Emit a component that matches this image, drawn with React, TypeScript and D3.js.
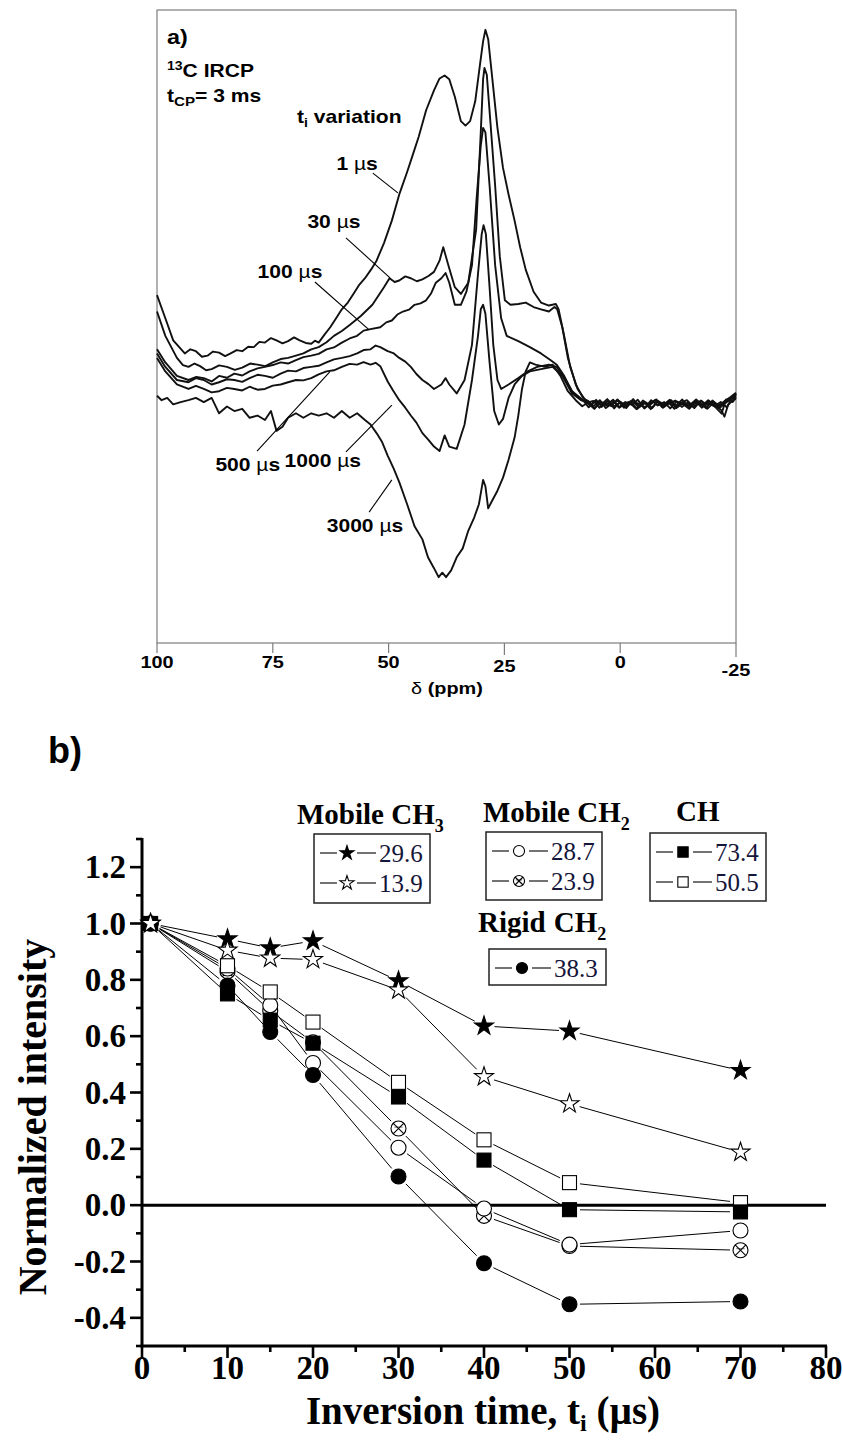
import * as d3 from 'd3';

type Pt = [number, number];

// ---------- panel a: 13C IRCP spectra, [ppm, intensity] (baseline 0, 1 µs main peak = 100)
const SPEC_1US: Pt[] = [
  [100, 29.1], [98.2, 22.9], [96.5, 17.0], [94.0, 13.5], [92.8, 14.6], [91.6, 14.1], [90.3, 12.6], [89.1, 12.9],
  [87.9, 14.0], [86.6, 13.7], [85.3, 12.8], [84.1, 13.5], [82.8, 14.4], [81.6, 14.1], [80.3, 15.3], [79.1, 15.2],
  [77.9, 16.6], [76.7, 16.4], [75.4, 17.6], [74.2, 17.0], [72.9, 16.2], [71.7, 16.8], [70.4, 17.8], [69.2, 17.0],
  [67.9, 16.3], [66.7, 16.1], [65.9, 16.9], [65.1, 16.4], [63.8, 18.6], [62.6, 20.5], [61.3, 23.0], [60.1, 25.3],
  [58.8, 27.1], [57.6, 29.4], [56.3, 31.9], [55.1, 33.6], [53.8, 35.9], [52.6, 38.3], [51.0, 43.0], [49.3, 49.0],
  [47.7, 56.0], [46.0, 62.0], [44.8, 66.5], [43.5, 71.4], [41.9, 78.5], [40.2, 83.8], [39.0, 87.0], [37.9, 87.8],
  [36.9, 86.8], [35.7, 82.1], [34.4, 75.6], [33.4, 74.4], [32.4, 75.6], [31.3, 80.9], [30.3, 90.4], [29.6, 96.9],
  [29.1, 100], [28.5, 97.5], [27.7, 88.0], [26.5, 73.8], [25.3, 63.1], [24.1, 56.0], [22.8, 49.0], [21.6, 41.9],
  [20.4, 35.9], [18.7, 30.0], [17.1, 27.1], [15.4, 26.3], [13.9, 26.7], [13.3, 25.3], [12.1, 18.2], [10.8, 9.9],
  [9.2, 4.0], [7.5, 1.0], [6.5, -0.4], [5.2, 1.1], [4, -0.8], [2.6, 0.9], [1.3, -1.2], [0, 0.6], [-1.4, -0.5],
  [-2.8, 1.3], [-4.1, -0.9], [-5.5, 0.4], [-6.9, -1.1], [-8.2, 0.8], [-9.6, -0.3], [-11, 1.0], [-12.3, -0.9],
  [-13.7, 0.5], [-15.1, -0.6], [-16.4, 1.2], [-17.8, -0.4], [-19.2, 0.7], [-20.5, -0.8], [-21.9, -2.6],
  [-22.6, 0.3], [-23.6, 1.4], [-25, 2.3],
];

const SPEC_30US: Pt[] = [
  [100, 24.7], [98.2, 18.2], [95.7, 12.3], [94.4, 10.4], [93.2, 9.9], [91.9, 10.8], [90.7, 10.1], [89.4, 9.0],
  [88.2, 9.3], [86.6, 10.3], [84.9, 9.9], [83.2, 9.1], [81.6, 9.7], [79.9, 10.8], [78.3, 10.5], [76.6, 10.1],
  [75.0, 11.1], [73.3, 12.0], [71.7, 12.3], [70.0, 12.9], [68.4, 13.5], [66.7, 14.6], [65.1, 15.2], [63.4, 16.5],
  [61.8, 18.2], [60.1, 19.5], [58.4, 21.1], [56.0, 23.5], [53.5, 26.5], [51.0, 31.2], [49.8, 33.6], [48.7, 32.6],
  [47.7, 33.0], [46.4, 34.1], [45.2, 33.6], [43.9, 32.8], [42.7, 33.3], [41.4, 34.2], [40.2, 35.3], [39.0, 38.3],
  [38.2, 41.9], [37.1, 37.1], [35.7, 31.2], [34.4, 29.4], [32.8, 32.4], [31.1, 46.6], [30.1, 72.6], [29.6, 86.8],
  [29.3, 89.8], [28.8, 88.0], [28.0, 75.0], [27.0, 58.4], [26.0, 39.5], [24.9, 27.7], [23.7, 26.5], [22.0, 26.7],
  [20.4, 27.1], [18.7, 25.9], [17.1, 25.3], [15.4, 24.7], [14.2, 25.9], [13.6, 25.3], [12.5, 20.5], [11.3, 12.3],
  [9.6, 5.2], [8.0, 1.6], [6.7, 0.5], [5.8, 0.8], [4.5, -1.0], [3.2, 0.5], [1.9, -0.6], [0.6, 1.2], [-0.8, -1.0],
  [-2.1, 0.3], [-3.5, -1.4], [-4.9, 0.9], [-6.2, -0.2], [-7.6, 1.1], [-9, -0.8], [-10.3, 0.6], [-11.7, -1.3],
  [-13, 0.2], [-14.4, 1.0], [-15.8, -0.7], [-17.1, 0.4], [-18.5, -1.1], [-19.9, 0.9], [-21.2, -0.5], [-22.6, 0.8],
  [-23.9, 1.9], [-25, 3.0],
];

const SPEC_100US: Pt[] = [
  [100, 14.6], [98.2, 11.1], [95.7, 7.5], [93.2, 6.4], [91.5, 7.2], [89.9, 6.9], [88.2, 6.0], [86.6, 7.5],
  [84.9, 7.0], [83.3, 8.1], [81.6, 7.6], [80.0, 8.7], [78.3, 9.5], [76.7, 9.9], [75.0, 10.4], [73.3, 11.1],
  [71.7, 10.8], [70.0, 11.7], [68.4, 12.5], [66.7, 12.9], [65.1, 13.4], [63.4, 14.6], [61.8, 15.1], [60.1, 16.4],
  [58.4, 17.5], [56.8, 18.2], [55.4, 19.6], [53.9, 20.0], [51.8, 20.5], [50.5, 21.8], [49.3, 22.3], [48.1, 23.9],
  [46.9, 24.7], [45.6, 25.2], [44.4, 26.5], [43.1, 26.9], [41.9, 27.7], [40.8, 29.6], [39.8, 32.4], [38.6, 33.6],
  [37.7, 35.0], [36.9, 32.4], [35.7, 26.5], [34.4, 26.5], [33.2, 30.0], [32.0, 37.1], [31.0, 54.9], [30.1, 69.1],
  [29.6, 73.8], [29.1, 72.6], [28.2, 58.4], [27.0, 37.1], [25.7, 22.9], [24.5, 18.2], [22.0, 16.8], [19.5, 15.2],
  [17.1, 13.5], [15.0, 11.7], [13.7, 10.5], [12.1, 7.5], [10.4, 3.4], [8.4, 1.0], [7, 0.3], [5.6, -1.3],
  [4.3, 0.6], [3, -0.3], [1.6, 1.0], [0.3, -0.9], [-1.1, 0.5], [-2.4, -0.2], [-3.8, 1.1], [-5.2, -1.2],
  [-6.5, 0.2], [-7.9, 0.9], [-9.3, -0.9], [-10.6, 0.3], [-12, -0.5], [-13.4, 1.2], [-14.7, -1.0], [-16.1, 0.1],
  [-17.5, 0.8], [-18.8, -1.3], [-20.2, 0.4], [-21.6, -0.6], [-22.9, 1.2], [-24.3, 0.5], [-25, 1.8],
];

const SPEC_500US: Pt[] = [
  [100, 13.5], [98.2, 9.9], [95.7, 6.4], [93.2, 5.8], [91.6, 6.9], [89.9, 6.4], [88.2, 5.2], [86.6, 5.8],
  [84.9, 6.6], [83.3, 6.4], [81.6, 5.9], [80.0, 6.9], [78.3, 7.8], [76.7, 7.5], [75.0, 7.0], [73.3, 8.1],
  [71.7, 8.9], [70.0, 8.7], [68.4, 9.6], [66.7, 9.9], [65.1, 10.2], [63.4, 11.1], [61.8, 11.9], [60.1, 12.3],
  [58.4, 12.8], [56.8, 13.5], [55.4, 14.4], [53.9, 14.6], [52.8, 15.6], [51.8, 15.2], [50.2, 14.1], [49.0, 13.6],
  [47.7, 12.3], [46.4, 11.3], [45.2, 9.9], [44.0, 8.0], [42.7, 6.4], [41.4, 5.3], [40.2, 4.0], [38.6, 5.2],
  [37.7, 6.9], [36.9, 5.2], [35.3, 2.8], [33.6, 6.4], [32.0, 15.8], [30.7, 34.8], [29.9, 45.4], [29.5, 47.8],
  [29.0, 45.4], [28.2, 31.2], [27.4, 15.8], [26.5, 6.4], [25.7, 4.0], [24.1, 5.2], [22.0, 6.9], [20.0, 8.7],
  [17.9, 9.9], [15.4, 10.5], [13.7, 9.9], [12.1, 6.9], [10.4, 3.4], [8.0, 1.0], [6.8, -0.9], [5.4, 0.7],
  [4.1, -0.2], [2.8, 1.3], [1.4, -0.7], [0.1, 0.3], [-1.3, -1.1], [-2.6, 0.8], [-4, 0.0], [-5.4, -0.9],
  [-6.7, 1.0], [-8.1, -0.4], [-9.5, 0.5], [-10.8, -1.2], [-12.2, 0.7], [-13.6, -0.1], [-14.9, -1.3], [-16.3, 0.6],
  [-17.7, -0.5], [-19, 1.0], [-20.4, -0.3], [-21.8, -1.6], [-22.5, -3.4], [-23.3, -0.2], [-24.4, 1.1], [-25, 2.6],
];

const SPEC_1000US: Pt[] = [
  [100, 12.3], [98.2, 8.7], [95.7, 5.2], [93.2, 4.0], [91.6, 4.8], [89.9, 4.0], [88.2, 3.1], [86.6, 3.4],
  [84.9, 4.3], [83.3, 4.0], [81.6, 3.6], [80.0, 4.6], [78.3, 3.8], [76.7, 4.0], [75.0, 4.9], [73.3, 5.2],
  [71.7, 5.8], [70.0, 6.4], [68.4, 6.3], [66.7, 6.9], [65.1, 7.9], [63.4, 8.7], [61.8, 9.0], [60.1, 9.9],
  [58.4, 10.7], [56.8, 10.5], [55.4, 11.2], [53.9, 10.5], [52.8, 11.0], [51.8, 10.1], [50.2, 6.0], [49.0, 3.5],
  [47.7, 1.0], [46.4, -1.0], [45.2, -3.1], [44.0, -5.0], [42.7, -7.8], [41.4, -9.6], [40.2, -11.4], [39.0, -12.6],
  [37.9, -8.4], [36.9, -11.4], [35.3, -12.0], [33.6, -5.5], [32.0, 6.4], [30.7, 18.2], [30.1, 25.3], [29.6, 26.5],
  [29.1, 24.1], [28.2, 11.1], [27.2, -1.9], [26.2, -5.5], [25.3, -4.0], [24.1, 1.6], [22.8, 5.2], [21.2, 7.5],
  [19.5, 8.7], [17.1, 9.3], [14.6, 9.9], [12.5, 7.5], [10.4, 2.8], [8.4, 1.0], [7, 0.9], [5.7, -0.6], [4.4, 1.0],
  [3.1, -1.1], [1.7, 0.2], [0.4, 0.9], [-1, -0.6], [-2.3, 0.4], [-3.7, -1.3], [-5.1, 0.5], [-6.4, -0.3],
  [-7.8, 1.2], [-9.2, -1.0], [-10.5, 0.1], [-11.9, 0.9], [-13.3, -0.8], [-14.6, 0.4], [-16, -1.1], [-17.4, 0.9],
  [-18.7, -0.2], [-20.1, 0.6], [-21.5, -1.0], [-22.8, 0.3], [-24.2, 1.6], [-25, 1.2],
];

const SPEC_3000US: Pt[] = [
  [100, 2.2], [99.0, 1.0], [97.8, 1.6], [96.5, -0.1], [94.9, 0.5], [93.2, 1.0], [91.6, 1.6], [89.9, 0.5],
  [88.2, 1.6], [86.6, -2.5], [84.9, -0.7], [83.3, -1.9], [81.6, -1.3], [80.0, -3.7], [78.3, -3.1], [76.7, -4.3],
  [75.4, -1.9], [74.2, -7.2], [72.9, -6.1], [71.7, -3.7], [70.0, -2.5], [68.4, -3.7], [66.7, -2.5], [65.1, -3.1],
  [63.4, -2.5], [61.8, -3.7], [60.1, -1.9], [58.4, -3.7], [56.8, -2.5], [55.1, -4.3], [53.9, -5.5], [52.6, -7.8],
  [51.4, -10.2], [50.2, -13.8], [48.9, -17.3], [47.7, -20.9], [46.0, -26.8], [44.4, -32.7], [42.7, -36.2],
  [41.5, -41.0], [40.2, -43.9], [39.2, -46.3], [38.4, -45.1], [37.6, -46.3], [36.5, -44.5], [35.3, -41.0],
  [34.0, -38.6], [32.8, -33.9], [31.5, -30.3], [30.5, -26.8], [29.6, -20.3], [29.1, -22.0], [28.5, -27.9],
  [27.8, -26.2], [26.5, -23.2], [25.3, -19.7], [24.1, -14.9], [22.8, -9.0], [22.0, -3.1], [21.2, 4.0], [20.4, 8.7],
  [19.5, 11.1], [18.3, 10.5], [16.2, 9.9], [14.6, 10.5], [12.9, 7.5], [11.3, 3.4], [9.6, 1.0], [8.2, -0.6],
  [6.9, 0.4], [5.5, -1.2], [4.2, 0.6], [2.9, -0.4], [1.5, 1.1], [0.2, -1.0], [-1.2, 0.2], [-2.5, 0.8],
  [-3.9, -0.7], [-5.3, 0.3], [-6.6, -1.4], [-8, 0.6], [-9.4, -0.2], [-10.7, 1.1], [-12.1, -1.1], [-13.5, 0.3],
  [-14.8, -0.5], [-16.2, 0.9], [-17.6, -1.0], [-18.9, 0.2], [-20.3, -0.6], [-21.7, 0.5], [-23, -0.9],
  [-24.4, 2.0], [-25, 2.8],
];

const SPECTRA: Pt[][] = [SPEC_3000US, SPEC_1000US, SPEC_500US, SPEC_100US, SPEC_30US, SPEC_1US];

// label text, label anchor, leader line start/end – all in [ppm, intensity]
const SPEC_LABELS: { t: string; at: Pt; from: Pt; to: Pt }[] = [
  { t: '1', at: [56.8, 62.5], from: [53.4, 61.7], to: [48.0, 56.4] },
  { t: '30', at: [61.8, 47.0], from: [59.2, 44.4], to: [49.7, 33.7] },
  { t: '100', at: [71.3, 33.7], from: [65.9, 32.6], to: [54.2, 19.8] },
  { t: '500', at: [80.4, -17.9], from: [78.4, -12.6], to: [62.7, 8.6] },
  { t: '1000', at: [64.2, -16.8], from: [59.2, -12.8], to: [49.3, -0.3] },
  { t: '3000', at: [55.1, -34.2], from: [54.2, -28.9], to: [49.3, -20.3] },
];

const PPM_TICKS = [100, 75, 50, 25, 0, -25];
const PPM_TICK_DY = [0, 0, 0, 4, 0, 8];

// ---------- panel b: normalized intensity vs inversion time
const TIMES = [1, 10, 15, 20, 30, 40, 50, 70];
const CH3_296 = [1.0, 0.945, 0.913, 0.938, 0.796, 0.636, 0.618, 0.478];
const CH3_139 = [1.0, 0.905, 0.877, 0.872, 0.764, 0.456, 0.36, 0.188];
const CH2M_287 = [1.0, 0.84, 0.71, 0.505, 0.204, -0.012, -0.14, -0.09];
const CH2M_239 = [1.0, 0.83, 0.69, 0.578, 0.272, -0.038, -0.145, -0.16];
const CH_734 = [1.0, 0.75, 0.657, 0.575, 0.384, 0.16, -0.016, -0.024];
const CH_505 = [1.0, 0.85, 0.757, 0.65, 0.436, 0.232, 0.08, 0.009];
const CH2R_383 = [1.0, 0.78, 0.615, 0.462, 0.102, -0.206, -0.352, -0.342];

const SERIES = [
  { marker: 'circleCross', values: CH2M_239 },
  { marker: 'circleOpen', values: CH2M_287 },
  { marker: 'squareOpen', values: CH_505 },
  { marker: 'squareFilled', values: CH_734 },
  { marker: 'circleFilled', values: CH2R_383 },
  { marker: 'starFilled', values: CH3_296 },
  { marker: 'starOpen', values: CH3_139 },
];

const X_TICKS = [0, 10, 20, 30, 40, 50, 60, 70, 80];
const X_MINOR = [5, 15, 25, 35, 45, 55, 65, 75];
const Y_TICKS = [-0.4, -0.2, 0.0, 0.2, 0.4, 0.6, 0.8, 1.0, 1.2];
const Y_MINOR = [-0.5, -0.3, -0.1, 0.1, 0.3, 0.5, 0.7, 0.9, 1.1, 1.3];

const LEGENDS = [
  { title: 'Mobile CH', sub: '3', tx: 297, ty: 824, box: [314, 834, 116, 69], rows: [['starFilled', '29.6'], ['starOpen', '13.9']] },
  { title: 'Mobile CH', sub: '2', tx: 483, ty: 822, box: [486, 832, 116, 68], rows: [['circleOpen', '28.7'], ['circleCross', '23.9']] },
  { title: 'CH', sub: '', tx: 676, ty: 821, box: [650, 833, 116, 68], rows: [['squareFilled', '73.4'], ['squareOpen', '50.5']] },
  { title: 'Rigid', sub: '2', tx: 478, ty: 932, box: [489, 949, 117, 36], rows: [['circleFilled', '38.3']] },
];

const SANS = '"Liberation Sans", Arial, sans-serif';
const SERIF = '"Liberation Serif", "Times New Roman", serif';

function Marker({ kind, x, y, s = 1 }: { kind: string; x: number; y: number; s?: number }) {
  const sw = 1.1;
  if (kind === 'starFilled' || kind === 'starOpen') {
    const r = 10 * s;
    const d = d3.symbol(d3.symbolStar, (r * r) / 0.8908130915292852)() as string;
    return <path d={d} transform={`translate(${x},${y})`} fill={kind === 'starFilled' ? '#000' : '#fff'} stroke="#000" strokeWidth={sw} strokeLinejoin="miter" />;
  }
  if (kind === 'circleOpen' || kind === 'circleFilled') {
    return <circle cx={x} cy={y} r={7.5 * s} fill={kind === 'circleFilled' ? '#000' : '#fff'} stroke="#000" strokeWidth={sw} />;
  }
  if (kind === 'circleCross') {
    const r = 7.5 * s;
    const k = r * 0.72;
    return (
      <g stroke="#000" strokeWidth={sw}>
        <circle cx={x} cy={y} r={r} fill="#fff" />
        <line x1={x - k} y1={y - k} x2={x + k} y2={y + k} />
        <line x1={x - k} y1={y + k} x2={x + k} y2={y - k} />
        <line x1={x - r * 0.55} y1={y - r * 0.2} x2={x + r * 0.55} y2={y - r * 0.2} strokeWidth={0.6} />
      </g>
    );
  }
  const h = 7 * s;
  return <rect x={x - h} y={y - h} width={2 * h} height={2 * h} fill={kind === 'squareFilled' ? '#000' : '#fff'} stroke="#000" strokeWidth={sw} />;
}

function PanelA() {
  const xA = d3.scaleLinear().domain([100, -25]).range([157, 736]);
  const yA = d3.scaleLinear().domain([-63.9, 105.3]).range([643, 10]);
  const line = d3.line<Pt>().x(d => xA(d[0])).y(d => yA(d[1]));
  const [x0, x1] = xA.range();
  const [y0, y1] = yA.range();
  const sx = 1.17;
  const T = (x: number, y: number) => `translate(${x},${y}) scale(${sx},1)`;

  return (
    <g fontFamily={SANS} fontWeight="bold" fill="#000">
      <rect x={x0} y={y1} width={x1 - x0} height={y0 - y1} fill="none" stroke="#7d7d7d" strokeWidth={1.2} />
      {PPM_TICKS.map((t, i) => (
        <g key={t}>
          <line x1={xA(t)} x2={xA(t)} y1={y0} y2={y0 + 10 + PPM_TICK_DY[i] * 0.5} stroke="#7d7d7d" strokeWidth={1.2} />
          <text transform={T(xA(t), 668 + PPM_TICK_DY[i])} textAnchor="middle" fontSize={17}>{t}</text>
        </g>
      ))}
      <text transform={T(447, 694)} textAnchor="middle" fontSize={17}>
        <tspan fontWeight="normal">δ</tspan> (ppm)
      </text>

      {SPECTRA.map((s, i) => (
        <path key={i} d={line(s) ?? ''} fill="none" stroke="#111" strokeWidth={1.9} strokeLinejoin="round" />
      ))}

      {SPEC_LABELS.map(l => (
        <g key={l.t}>
          <line x1={xA(l.from[0])} y1={yA(l.from[1])} x2={xA(l.to[0])} y2={yA(l.to[1])} stroke="#000" strokeWidth={1.1} />
          <text transform={T(xA(l.at[0]), yA(l.at[1]))} textAnchor="middle" fontSize={18}>
            {`${l.t} `}<tspan fontWeight="normal">µ</tspan>s
          </text>
        </g>
      ))}

      <text transform={T(167, 44)} fontSize={20}>a)</text>
      <text transform={T(167, 77)} fontSize={18}>
        <tspan fontSize={12} dy={-7}>13</tspan><tspan dy={7}>C IRCP</tspan>
      </text>
      <text transform={T(167, 102)} fontSize={18}>
        t<tspan fontSize={13} dy={4}>CP</tspan><tspan dy={-4}>= 3 ms</tspan>
      </text>
      <text transform={T(297, 123)} fontSize={18}>
        t<tspan fontSize={12} dy={4}>i</tspan><tspan dy={-4}> variation</tspan>
      </text>
    </g>
  );
}

function PanelB() {
  const xB = d3.scaleLinear().domain([0, 80]).range([142, 826]);
  const yB = d3.scaleLinear().domain([-0.5, 1.3]).range([1346, 839]);
  const gap = 10.5;

  const segments = SERIES.flatMap((s, si) =>
    s.values.slice(1).map((v, i) => {
      const ax = xB(TIMES[i]), ay = yB(s.values[i]);
      const bx = xB(TIMES[i + 1]), by = yB(v);
      const len = Math.hypot(bx - ax, by - ay);
      if (len < 2 * gap + 1) return null;
      const ux = (bx - ax) / len, uy = (by - ay) / len;
      return (
        <line key={`${si}-${i}`} x1={ax + ux * gap} y1={ay + uy * gap} x2={bx - ux * gap} y2={by - uy * gap} stroke="#000" strokeWidth={1} />
      );
    })
  );

  return (
    <g>
      <text x={48} y={763} fontFamily={SANS} fontWeight="bold" fontSize={36}>b)</text>

      {/* zero line */}
      <line x1={xB(0)} x2={xB(80)} y1={yB(0)} y2={yB(0)} stroke="#000" strokeWidth={3} />

      {/* axes */}
      <g stroke="#000" strokeWidth={2.6}>
        <line x1={xB(0)} x2={xB(0)} y1={yB(1.3) - 1} y2={yB(-0.5) + 1.3} strokeWidth={3} />
        <line x1={xB(0) - 1.3} x2={xB(80) + 1} y1={yB(-0.5)} y2={yB(-0.5)} strokeWidth={3} />
        {X_TICKS.map(t => <line key={t} x1={xB(t)} x2={xB(t)} y1={yB(-0.5)} y2={yB(-0.5) + 12} />)}
        {X_MINOR.map(t => <line key={t} x1={xB(t)} x2={xB(t)} y1={yB(-0.5)} y2={yB(-0.5) + 6} />)}
        {Y_TICKS.map(t => <line key={t} x1={xB(0) - 12} x2={xB(0)} y1={yB(t)} y2={yB(t)} />)}
        {Y_MINOR.map(t => <line key={t} x1={xB(0) - 6} x2={xB(0)} y1={yB(t)} y2={yB(t)} />)}
      </g>

      <g fontFamily={SERIF} fontWeight="bold" fill="#000">
        {X_TICKS.map(t => (
          <text key={t} x={xB(t)} y={yB(-0.5) + 33} textAnchor="middle" fontSize={33}>{t}</text>
        ))}
        {Y_TICKS.map(t => (
          <text key={t} x={xB(0) - 16} y={yB(t) + 11} textAnchor="end" fontSize={33}>{t.toFixed(1)}</text>
        ))}
        <text x={483} y={1424} textAnchor="middle" fontSize={39}>
          Inversion time, t<tspan fontSize={24} dy={7}>i</tspan><tspan dy={-7}> (µs)</tspan>
        </text>
        <text transform="translate(46,1117) rotate(-90)" textAnchor="middle" fontSize={40}>Normalized intensity</text>
      </g>

      {segments}
      {SERIES.map((s, si) =>
        s.values.map((v, i) => <Marker key={`${si}-${i}`} kind={s.marker} x={xB(TIMES[i])} y={yB(v)} />)
      )}

      {/* legends */}
      {LEGENDS.map((g, gi) => {
        const [bx, by, bw, bh] = g.box;
        return (
          <g key={gi}>
            <text x={g.tx} y={g.ty} fontFamily={SERIF} fontWeight="bold" fontSize={29}>
              {g.title === 'Rigid' ? <>Rigid<tspan dx={8}>CH</tspan></> : g.title}
              {g.sub && <tspan fontSize={18} dy={8}>{g.sub}</tspan>}
            </text>
            <rect x={bx} y={by} width={bw} height={bh} fill="#fff" stroke="#222" strokeWidth={1.5} />
            {g.rows.map(([kind, label], ri) => {
              const cy = by + 19 + ri * 30;
              return (
                <g key={ri}>
                  <line x1={bx + 6} x2={bx + 23} y1={cy} y2={cy} stroke="#000" strokeWidth={1.1} />
                  <line x1={bx + 43} x2={bx + 62} y1={cy} y2={cy} stroke="#000" strokeWidth={1.1} />
                  <Marker kind={kind} x={bx + 33} y={cy} s={0.74} />
                  <text x={bx + 65} y={cy + 8.5} fontFamily={SERIF} fontSize={25} fill="#15153a">{label}</text>
                </g>
              );
            })}
          </g>
        );
      })}
    </g>
  );
}

export default function App() {
  return (
    <svg width={843} height={1441} viewBox="0 0 843 1441" style={{ position: 'absolute', left: 0, top: 0, background: '#fff' }}>
      <rect width={843} height={1441} fill="#fff" />
      <PanelA />
      <PanelB />
    </svg>
  );
}
